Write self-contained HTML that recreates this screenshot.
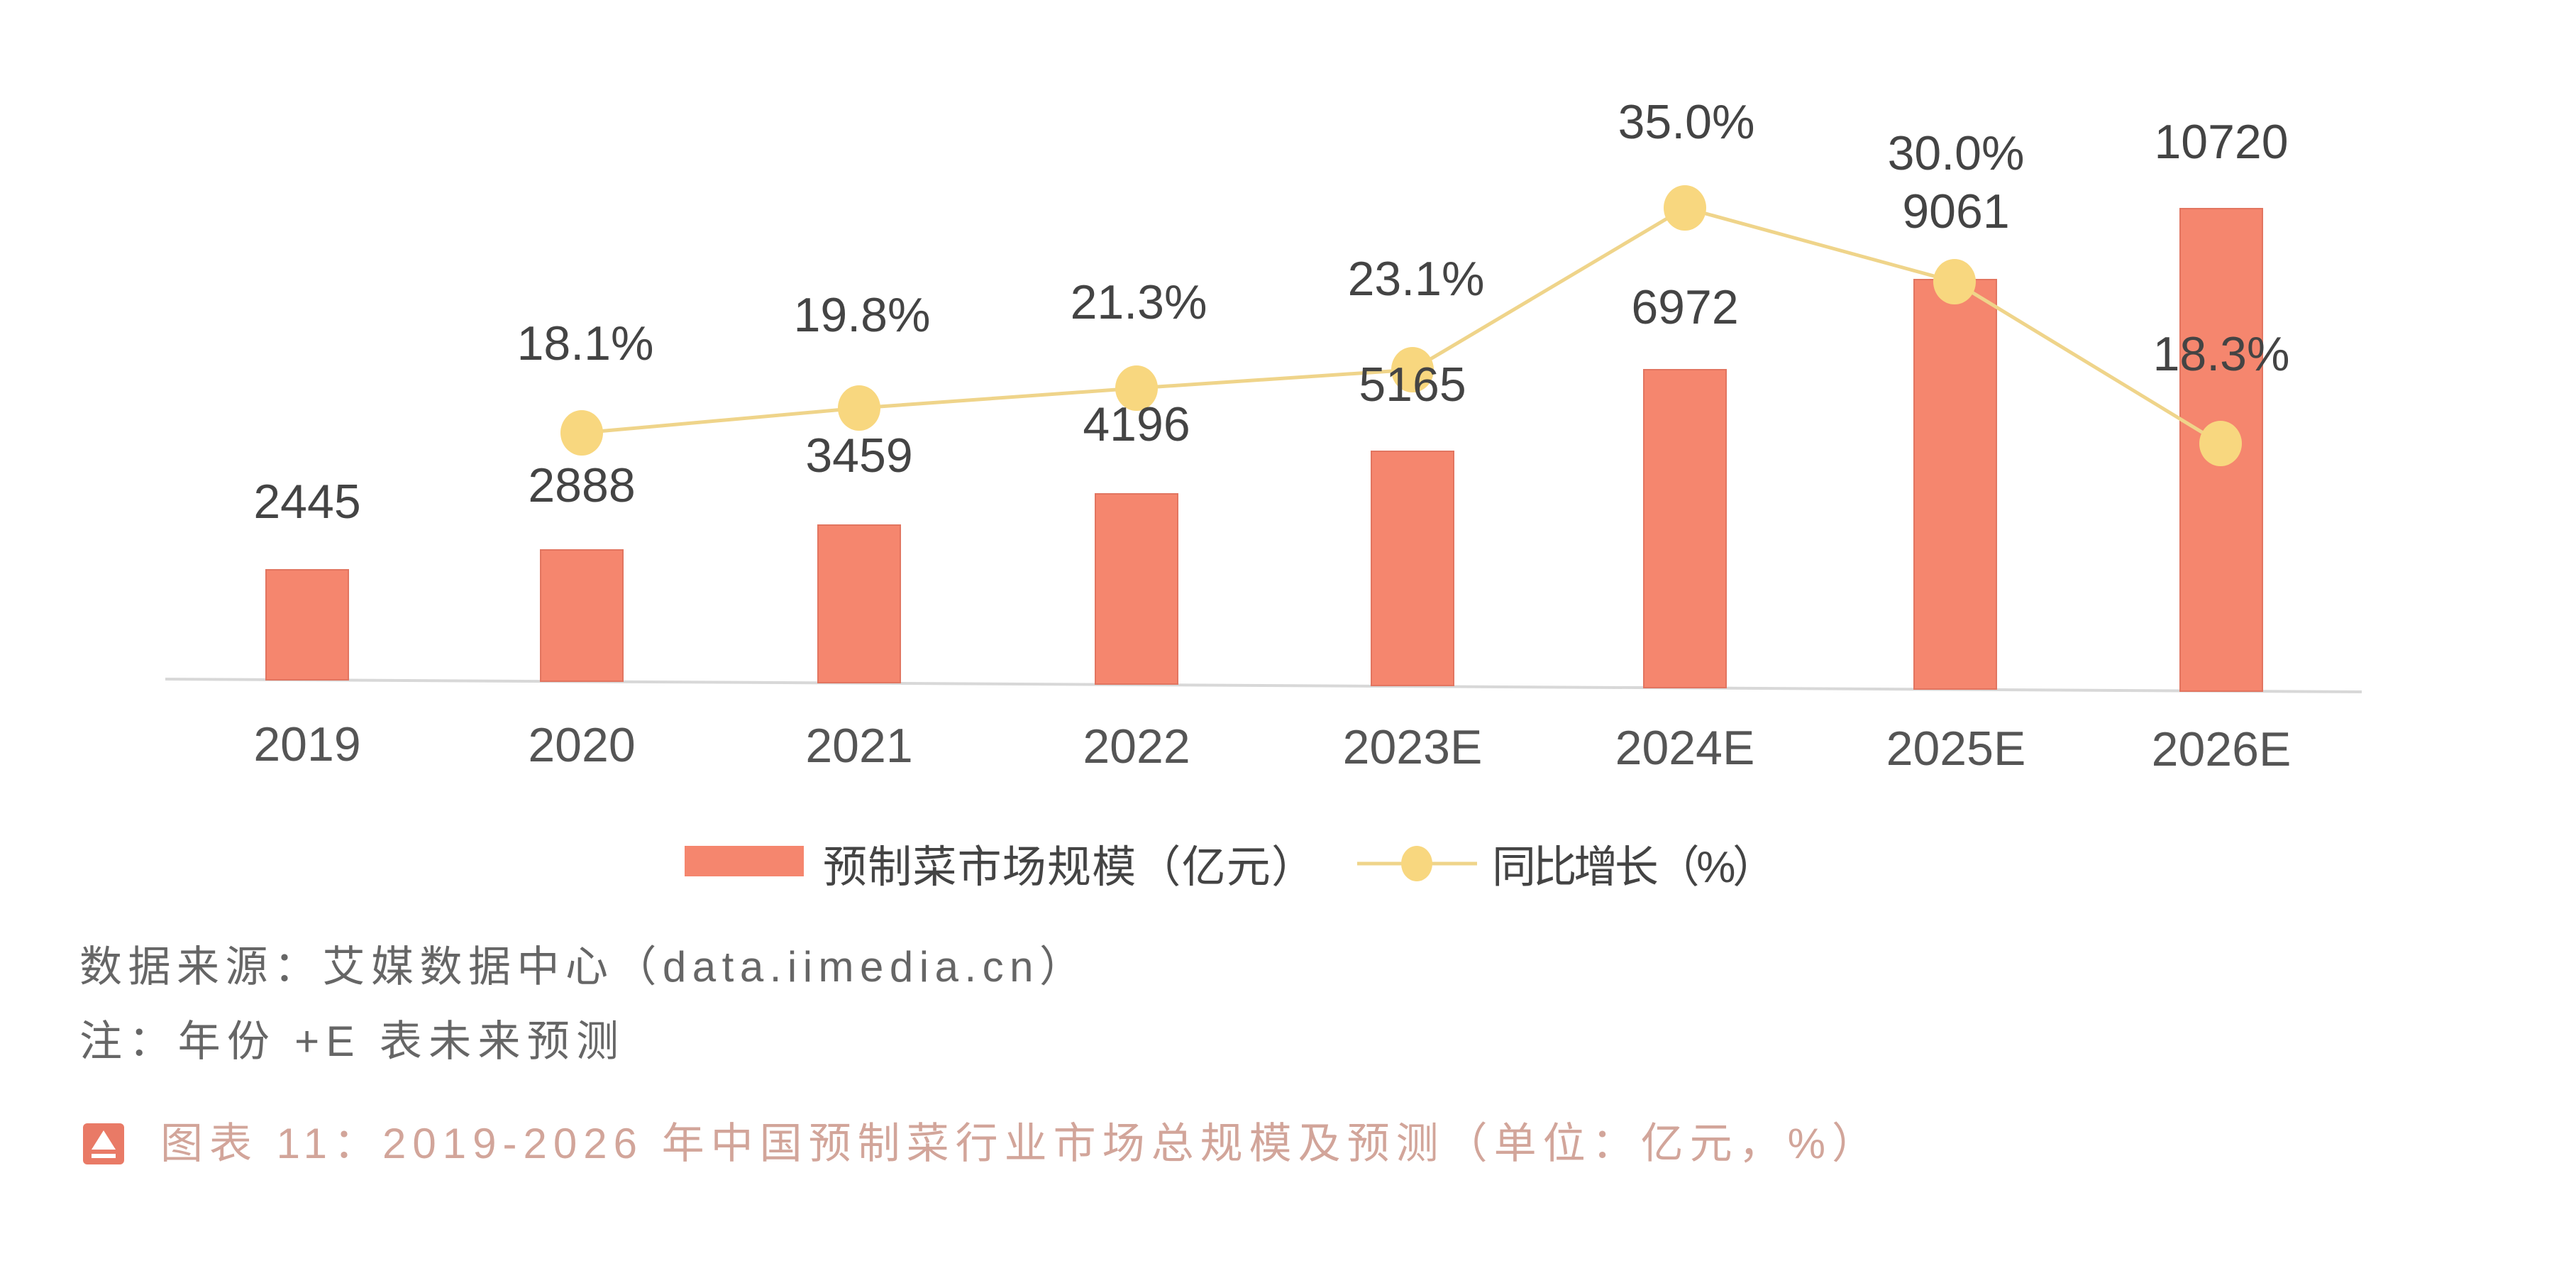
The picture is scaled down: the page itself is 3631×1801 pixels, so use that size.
<!DOCTYPE html>
<html><head><meta charset="utf-8"><style>
html,body{margin:0;padding:0;background:#fff;}
svg{display:block;}
text{font-family:"Liberation Sans","Noto Sans CJK SC",sans-serif;}
</style></head><body>
<svg width="3631" height="1801" viewBox="0 0 3631 1801" xmlns="http://www.w3.org/2000/svg">
<rect width="3631" height="1801" fill="#fff"/>
<!-- axis -->
<line x1="233" y1="957" x2="3329" y2="975" stroke="#d8d8d8" stroke-width="4"/>
<!-- bars -->
<g fill="#f5866e" stroke="#e27560" stroke-width="2">
<rect x="375" y="803" width="116" height="155"/>
<rect x="762" y="775" width="116" height="185"/>
<rect x="1153" y="740" width="116" height="222"/>
<rect x="1544" y="696" width="116" height="268"/>
<rect x="1933" y="636" width="116" height="330"/>
<rect x="2317" y="521" width="116" height="448"/>
<rect x="2698" y="394" width="116" height="577"/>
<rect x="3073" y="294" width="116" height="680"/>
</g>
<!-- line -->
<polyline points="820,610 1211,575 1602,547 1991,521 2375,293 2755,397 3130,625" fill="none" stroke="#efd48a" stroke-width="5"/>
<g fill="#f8d77f">
<ellipse cx="820" cy="610" rx="30" ry="32"/>
<ellipse cx="1211" cy="575" rx="30" ry="32"/>
<ellipse cx="1602" cy="547" rx="30" ry="32"/>
<ellipse cx="1991" cy="521" rx="30" ry="32"/>
<ellipse cx="2375" cy="293" rx="30" ry="32"/>
<ellipse cx="2755" cy="397" rx="30" ry="32"/>
<ellipse cx="3130" cy="625" rx="30" ry="32"/>
</g>
<!-- value labels -->
<g font-size="68" fill="#444" text-anchor="middle">
<text x="433" y="730">2445</text>
<text x="820" y="707">2888</text>
<text x="1211" y="665">3459</text>
<text x="1602" y="621">4196</text>
<text x="1991" y="565">5165</text>
<text x="2375" y="456">6972</text>
<text x="2757" y="321">9061</text>
<text x="3131" y="223">10720</text>
<text x="825" y="507">18.1%</text>
<text x="1215" y="467">19.8%</text>
<text x="1605" y="449">21.3%</text>
<text x="1996" y="416">23.1%</text>
<text x="2377" y="195">35.0%</text>
<text x="2757" y="239">30.0%</text>
<text x="3131" y="522">18.3%</text>
</g>
<!-- x labels -->
<g font-size="68" fill="#555" text-anchor="middle">
<text x="433" y="1072">2019</text>
<text x="820" y="1073">2020</text>
<text x="1211" y="1074">2021</text>
<text x="1602" y="1075">2022</text>
<text x="1991" y="1076">2023E</text>
<text x="2375" y="1077">2024E</text>
<text x="2757" y="1078">2025E</text>
<text x="3131" y="1079">2026E</text>
</g>
<!-- legend -->
<rect x="965" y="1192" width="168" height="43" fill="#f5866e"/>
<text x="1160" y="1243" font-size="62" fill="#444" textLength="694">预制菜市场规模（亿元）</text>
<line x1="1913" y1="1217" x2="2082" y2="1217" stroke="#efd48a" stroke-width="5"/>
<ellipse cx="1997" cy="1217" rx="22" ry="25" fill="#f8d77f"/>
<text x="2103" y="1243" font-size="62" fill="#444" textLength="401">同比增长（%）</text>
<!-- notes -->
<text x="112" y="1383" font-size="60" fill="#666" textLength="1413">数据来源：艾媒数据中心（data.iimedia.cn）</text>
<text x="112" y="1488" font-size="60" fill="#666" textLength="760">注：年份 +E 表未来预测</text>
<rect x="117" y="1583" width="58" height="58" rx="6" fill="#e97a66"/>
<polygon points="146,1593 163,1620 129,1620" fill="#fff"/>
<rect x="129" y="1626" width="34" height="6" fill="#fff"/>
<text x="226" y="1632" font-size="60" fill="#d2a59a" textLength="2416">图表 11：2019-2026 年中国预制菜行业市场总规模及预测（单位：亿元，%）</text>
</svg>
</body></html>
